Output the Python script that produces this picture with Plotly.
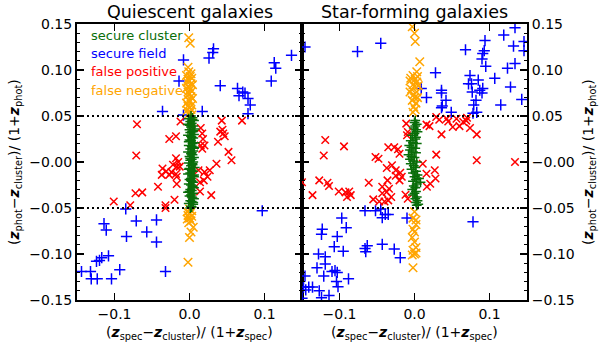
import plotly.graph_objects as go

# ---------------- data ----------------
panel_titles = ["Quiescent galaxies", "Star-forming galaxies"]
legend_labels = ["secure cluster", "secure field", "false positive", "false negative"]
y_tickvals = [0.15, 0.10, 0.05, 0.0, -0.05, -0.10, -0.15]
y_ticktext = ["0.15", "0.10", "0.05", "−0.00", "−0.05", "−0.10", "−0.15"]
x_tickvals = [-0.1, 0.0, 0.1]
x_ticktext = ["−0.1", "0.0", "0.1"]
cut_levels = [0.05, -0.05]

# Quiescent: secure cluster (green +)
q_cluster = [
    (0.002, 0.050), (0.004, 0.048), (-0.001, 0.047), (0.006, 0.045), (0.001, 0.044), (0.003, 0.042),
    (-0.002, 0.041), (0.005, 0.039), (0.002, 0.038), (0.007, 0.036), (0.000, 0.035), (0.004, 0.033),
    (0.001, 0.032), (0.006, 0.030), (-0.002, 0.029), (0.003, 0.027), (0.005, 0.026), (0.000, 0.024),
    (0.002, 0.023), (0.007, 0.021), (0.004, 0.020), (-0.001, 0.018), (0.003, 0.017), (0.006, 0.015),
    (0.001, 0.014), (0.005, 0.012), (-0.002, 0.011), (0.002, 0.009), (0.004, 0.008), (0.000, 0.006),
    (0.006, 0.005), (0.003, 0.003), (0.001, 0.002), (0.005, 0.000), (-0.001, -0.001), (0.004, -0.003),
    (0.002, -0.004), (0.007, -0.006), (0.000, -0.007), (0.003, -0.009), (0.005, -0.010), (0.001, -0.012),
    (-0.002, -0.013), (0.004, -0.015), (0.006, -0.016), (0.002, -0.018), (0.000, -0.019), (0.003, -0.021),
    (0.005, -0.022), (-0.001, -0.024), (0.002, -0.025), (0.004, -0.027), (0.006, -0.028), (0.001, -0.030),
    (0.003, -0.031), (-0.002, -0.033), (0.005, -0.034), (0.002, -0.036), (0.000, -0.037), (0.004, -0.039),
    (0.006, -0.040), (0.001, -0.042), (0.003, -0.043), (-0.001, -0.045), (0.005, -0.046), (0.002, -0.048),
    (0.003, -0.049), (0.004, 0.046), (0.000, 0.040), (0.005, 0.034), (0.002, 0.028), (-0.001, 0.022),
    (0.006, 0.016), (0.003, 0.010), (0.001, 0.004), (0.004, -0.002), (-0.001, -0.008), (0.006, -0.014),
    (0.002, -0.020), (0.004, -0.026), (0.000, -0.032), (0.003, -0.038), (0.005, -0.044), (0.001, -0.050),
]
# Quiescent: secure field (blue +)
q_field = [
    (-0.008, 0.111), (0.032, 0.123), (0.031, 0.119), (0.026, 0.113), (0.136, 0.116), (0.113, 0.108),
    (0.115, 0.102), (0.109, 0.088), (-0.014, 0.088), (0.041, 0.083), (0.064, 0.080), (0.071, 0.076),
    (0.074, 0.075), (0.066, 0.072), (0.078, 0.069), (0.081, 0.062), (0.078, 0.0525), (-0.036, 0.055),
    (0.017, 0.055), (-0.008, 0.051),
    (-0.085, -0.051), (0.097, -0.053), (-0.114, -0.067), (-0.111, -0.074), (-0.071, -0.064), (-0.044, -0.063),
    (-0.057, -0.076), (-0.084, -0.081), (-0.044, -0.087), (-0.108, -0.102), (-0.117, -0.104), (-0.124, -0.108),
    (-0.120, -0.107), (-0.093, -0.117), (-0.144, -0.119), (-0.132, -0.119), (-0.131, -0.127), (-0.123, -0.127),
    (-0.104, -0.127), (-0.032, -0.119),
]
# Quiescent: false positive (red x)
q_false_pos = [
    (-0.070, 0.041), (-0.071, 0.007), (-0.012, 0.044), (0.043, 0.045), (0.070, 0.045), (-0.018, 0.028),
    (-0.027, 0.025), (0.017, 0.031), (0.018, 0.025), (0.015, 0.018), (0.020, 0.018), (0.017, 0.0145),
    (0.041, 0.033), (0.045, 0.031), (0.047, 0.028), (0.038, 0.022), (0.052, 0.011), (0.056, 0.002),
    (0.036, -0.002), (-0.018, 0.004), (-0.015, 0.000), (-0.022, -0.003), (-0.017, -0.005), (-0.013, -0.005),
    (-0.036, -0.007), (-0.031, -0.010), (-0.024, -0.011), (-0.018, -0.013), (-0.027, -0.014), (-0.017, -0.016),
    (-0.037, -0.014), (0.012, -0.009), (0.020, -0.011), (0.027, -0.009), (0.024, -0.016), (0.019, -0.020),
    (0.014, -0.022), (-0.017, -0.024), (-0.042, -0.027), (0.014, -0.032), (0.029, -0.036), (-0.072, -0.034),
    (-0.063, -0.033), (-0.020, -0.041), (-0.032, -0.047), (-0.101, -0.043), (-0.079, -0.047), (-0.032, -0.050),
    (0.015, 0.037), (0.044, 0.035),
]
# Quiescent: false negative (orange x)
q_false_neg = [
    (-0.001, 0.135), (0.001, 0.129), (-0.002, 0.103),
    (-0.001, 0.098), (0.002, 0.096), (-0.004, 0.094), (0.001, 0.093), (0.003, 0.091), (-0.002, 0.090),
    (0.000, 0.088), (-0.003, 0.087), (0.002, 0.085), (0.004, 0.084), (-0.001, 0.082), (-0.004, 0.080),
    (0.001, 0.079), (0.003, 0.077), (-0.002, 0.076), (0.000, 0.074), (-0.003, 0.072), (0.002, 0.071),
    (0.004, 0.069), (-0.001, 0.067), (0.001, 0.066), (-0.004, 0.064), (0.003, 0.062), (-0.002, 0.061),
    (0.000, 0.059), (0.002, 0.057), (-0.003, 0.056), (0.001, 0.054), (-0.001, 0.052), (0.003, 0.051),
    (0.000, -0.051), (0.003, -0.053), (-0.003, -0.054), (0.001, -0.056), (-0.002, -0.058), (0.003, -0.059),
    (0.000, -0.061), (-0.003, -0.062), (0.002, -0.064), (-0.001, -0.066), (0.005, -0.071), (0.002, -0.076),
    (0.000, -0.082), (-0.002, -0.109),
]

# Star-forming: secure cluster (green +)
s_cluster = [
    (0.001, 0.045), (0.000, 0.043), (0.003, 0.041), (0.001, 0.039), (-0.001, 0.037), (0.002, 0.035),
    (0.004, 0.033), (0.000, 0.031), (-0.003, 0.029), (0.002, 0.027), (0.001, 0.025), (-0.005, 0.023),
    (-0.002, 0.021), (0.003, 0.020), (-0.007, 0.018), (-0.004, 0.016), (0.001, 0.015), (-0.006, 0.013),
    (-0.002, 0.011), (0.002, 0.010), (-0.008, 0.008), (-0.004, 0.006), (0.000, 0.005), (-0.006, 0.003),
    (-0.002, 0.001), (0.003, 0.000), (-0.005, -0.002), (-0.001, -0.004), (0.001, -0.006), (-0.004, -0.008),
    (0.002, -0.010), (-0.002, -0.012), (0.004, -0.014), (0.000, -0.016), (0.006, -0.018), (0.002, -0.019),
    (-0.002, -0.021), (0.008, -0.022), (0.003, -0.024), (-0.001, -0.026), (0.001, -0.028), (-0.003, -0.030),
    (0.002, -0.032), (0.000, -0.034), (-0.002, -0.036), (0.003, -0.038), (0.001, -0.040), (0.004, -0.042),
    (0.002, -0.044), (0.005, -0.046), (0.003, -0.047),
]
# Star-forming: secure field (blue +)
s_field = [
    (-0.146, 0.125), (-0.076, 0.120), (-0.045, 0.129), (0.028, 0.097), (0.009, 0.080), (0.016, 0.070),
    (0.036, 0.078), (0.036, 0.075), (0.042, 0.067), (0.036, 0.059), (0.037, 0.061), (0.049, 0.054),
    (0.068, 0.122), (0.074, 0.094), (0.072, 0.085), (0.076, 0.085), (0.085, 0.089), (0.087, 0.078),
    (0.091, 0.080), (0.090, 0.075), (0.077, 0.076), (0.082, 0.067), (0.079, 0.062), (0.083, 0.054),
    (0.078, 0.053), (0.094, 0.132), (0.091, 0.118), (0.093, 0.121), (0.090, 0.112), (0.095, 0.104),
    (0.107, 0.091), (0.115, 0.062), (0.119, 0.138), (0.134, 0.146), (0.132, 0.126), (0.134, 0.107),
    (0.124, 0.102), (0.128, 0.0815), (0.143, 0.068), (0.146, 0.131), (0.146, 0.121),
    (-0.066, -0.053), (-0.052, -0.053), (-0.045, -0.051), (-0.039, -0.057), (-0.043, -0.0605), (-0.035, -0.057),
    (-0.010, -0.061), (0.078, -0.065), (-0.097, -0.061), (-0.123, -0.073), (-0.124, -0.0786), (-0.091, -0.0714),
    (-0.103, -0.081), (-0.107, -0.092), (-0.095, -0.097), (-0.128, -0.100), (-0.119, -0.103), (-0.066, -0.094),
    (-0.065, -0.0975), (-0.063, -0.091), (-0.043, -0.0895), (-0.027, -0.0946), (-0.019, -0.104), (-0.130, -0.115),
    (-0.119, -0.111), (-0.121, -0.124), (-0.110, -0.119), (-0.106, -0.118), (-0.103, -0.120), (-0.104, -0.130),
    (-0.102, -0.1355), (-0.088, -0.127), (-0.146, -0.124), (-0.148, -0.136), (-0.141, -0.136), (-0.136, -0.136),
    (-0.145, -0.139), (-0.127, -0.140), (-0.114, -0.145), (-0.124, -0.1475), (-0.150, -0.148),
]
# Star-forming: false positive (red x)
s_false_pos = [
    (-0.119, 0.024), (-0.094, 0.017), (-0.121, 0.007), (-0.150, -0.022), (-0.127, -0.020), (-0.116, -0.0225),
    (-0.114, -0.026), (-0.136, -0.036), (-0.101, -0.032), (-0.092, -0.033), (-0.087, -0.032), (-0.090, -0.038),
    (-0.085, -0.036), (-0.061, -0.0225), (-0.052, 0.0054), (-0.048, 0.0036), (-0.035, 0.016), (-0.027, 0.016),
    (-0.022, 0.0138), (-0.020, 0.009), (-0.037, -0.0065), (-0.030, -0.0036), (-0.025, -0.009), (-0.019, -0.0116),
    (-0.017, -0.016), (-0.025, -0.015), (-0.020, -0.020), (-0.036, -0.020), (-0.043, -0.027), (-0.034, -0.029),
    (-0.037, -0.0326), (-0.043, -0.034), (-0.031, -0.038), (-0.035, -0.0417), (-0.055, -0.0406), (-0.047, -0.043),
    (-0.040, -0.043), (-0.009, -0.040), (-0.012, -0.0355), (-0.011, 0.0417), (-0.009, 0.0326), (-0.010, 0.029),
    (0.016, 0.0406), (0.020, 0.039), (0.029, 0.049), (0.033, 0.046), (0.036, 0.030), (0.043, 0.047),
    (0.045, 0.044), (0.051, 0.038), (0.056, 0.047), (0.065, 0.0435), (0.069, 0.045), (0.074, 0.037),
    (0.083, 0.030), (0.070, 0.048), (0.060, 0.039), (0.029, 0.008), (0.011, -0.0018), (0.016, -0.0127),
    (0.027, -0.009), (0.028, -0.018), (0.0165, -0.027), (0.021, -0.0236), (0.083, 0.002), (0.134, 0.000),
]
# Star-forming: false negative (orange x)
s_false_neg = [
    (-0.003, 0.147), (0.000, 0.140), (0.001, 0.131), (0.007, 0.109),
    (-0.002, 0.094), (0.004, 0.093), (0.001, 0.090), (-0.006, 0.088), (0.003, 0.087), (-0.002, 0.084),
    (0.000, 0.082), (-0.004, 0.079), (0.003, 0.076), (-0.001, 0.073), (0.000, 0.070), (-0.003, 0.067),
    (0.002, 0.064), (-0.001, 0.060), (0.001, 0.057), (-0.002, 0.054), (0.003, 0.098), (-0.005, 0.091),
    (0.005, 0.083), (-0.006, 0.076), (0.004, 0.070),
    (0.000, -0.054), (-0.002, -0.061), (0.002, -0.063), (0.002, -0.068), (-0.002, -0.073), (0.000, -0.076),
    (-0.003, -0.082), (0.000, -0.087), (0.002, -0.093), (-0.002, -0.096), (0.000, -0.100), (-0.003, -0.101),
    (0.002, -0.099), (-0.002, -0.115),
]

# ---------------- styling ----------------
GREEN = "#0a6e0a"
BLUE = "#0000ff"
RED = "#ff0000"
ORANGE = "#ffa500"
FONT = "DejaVu Sans"

fig = go.Figure()


def add_series(points, symbol, size, color, xa, ya):
    xs = [p[0] for p in points]
    ys = [p[1] for p in points]
    fig.add_trace(go.Scatter(
        x=xs, y=ys, mode="markers", xaxis=xa, yaxis=ya, showlegend=False,
        marker=dict(symbol=symbol, size=size, color=color, line=dict(width=1.5, color=color)),
        hoverinfo="skip"))


for xa, ya, fld, fp, fn, cl in [
    ("x", "y", q_field, q_false_pos, q_false_neg, q_cluster),
    ("x2", "y2", s_field, s_false_pos, s_false_neg, s_cluster),
]:
    add_series(fld, "cross-thin", 8, BLUE, xa, ya)
    add_series(fp, "x-thin", 7.5, RED, xa, ya)
    add_series(fn, "x-thin", 8.5, ORANGE, xa, ya)
    add_series(cl, "cross-thin", 7, GREEN, xa, ya)

common_x = dict(range=[-0.15, 0.15], showgrid=False, zeroline=False, showline=True,
                linewidth=2, linecolor="black", mirror="ticks", ticks="inside", ticklen=7,
                tickwidth=1.5, tickcolor="black", tickvals=x_tickvals, ticktext=x_ticktext,
                tickfont=dict(family=FONT, size=14, color="black"))
common_y = dict(range=[-0.15, 0.15], showgrid=False, zeroline=False, showline=True,
                linewidth=2, linecolor="black", mirror="ticks", ticks="inside", ticklen=7,
                tickwidth=1.5, tickcolor="black", tickvals=y_tickvals, ticktext=y_ticktext,
                tickfont=dict(family=FONT, size=14, color="black"),
                minor=dict(tickmode="linear", tick0=0, dtick=0.01, ticks="inside", ticklen=3,
                           tickwidth=1, tickcolor="black"))

fig.update_layout(
    width=600, height=348,
    margin=dict(l=77, r=73, t=24, b=48),
    paper_bgcolor="white", plot_bgcolor="white",
    xaxis=dict(domain=[0, 0.5], anchor="y", **common_x),
    yaxis=dict(domain=[0, 1], anchor="x", side="left", **common_y),
    xaxis2=dict(domain=[0.5, 1], anchor="y2", **common_x),
    yaxis2=dict(domain=[0, 1], anchor="x2", side="right", **common_y),
)

# dotted cut lines
shapes = []
for xr, yr in [("x", "y"), ("x2", "y2")]:
    for lvl in cut_levels:
        shapes.append(dict(type="line", xref=xr, yref=yr, x0=-0.15, x1=0.15, y0=lvl, y1=lvl,
                           line=dict(color="black", width=2, dash="2px,3px")))
fig.update_layout(shapes=shapes)

x_title = ("(<b><i>z</i></b><sub>spec</sub>−<b><i>z</i></b><sub>cluster</sub>)/ "
           "(1+<b><i>z</i></b><sub>spec</sub>)")
y_title = ("(<b><i>z</i></b><sub>phot</sub>−<b><i>z</i></b><sub>cluster</sub>)/ "
           "(1+<b><i>z</i></b><sub>phot</sub>)")

ann = []
for cx, t in zip([0.25, 0.75], panel_titles):
    ann.append(dict(text=t, x=cx, y=1.0, xref="paper", yref="paper", yshift=12,
                    yanchor="middle", xanchor="center", showarrow=False,
                    font=dict(family=FONT, size=17.5, color="black")))
    ann.append(dict(text=x_title, x=cx, y=0, xref="paper", yref="paper", yshift=-33,
                    yanchor="middle", xanchor="center", showarrow=False,
                    font=dict(family=FONT, size=14, color="black")))
ann.append(dict(text=y_title, x=0, y=0.5, xref="paper", yref="paper", xshift=-62,
                xanchor="center", yanchor="middle", textangle=-90, showarrow=False,
                font=dict(family=FONT, size=14, color="black")))
ann.append(dict(text=y_title, x=1, y=0.5, xref="paper", yref="paper", xshift=62,
                xanchor="center", yanchor="middle", textangle=-90, showarrow=False,
                font=dict(family=FONT, size=14, color="black")))

legend_colors = [GREEN, BLUE, RED, ORANGE]
legend_y = [0.138, 0.118, 0.098, 0.078]
for lab, col, ly in zip(legend_labels, legend_colors, legend_y):
    ann.append(dict(text=lab, x=-0.134, y=ly, xref="x", yref="y", xanchor="left",
                    yanchor="middle", showarrow=False,
                    font=dict(family=FONT, size=13, color=col)))
fig.update_layout(annotations=ann)

# remove the browser's default 8px page margin so the figure sits at (0, 0)
fig.write_html("out.html",
               config={"displayModeBar": False, "staticPlot": True},
               post_script="document.body.style.margin='0';document.body.style.padding='0';")
